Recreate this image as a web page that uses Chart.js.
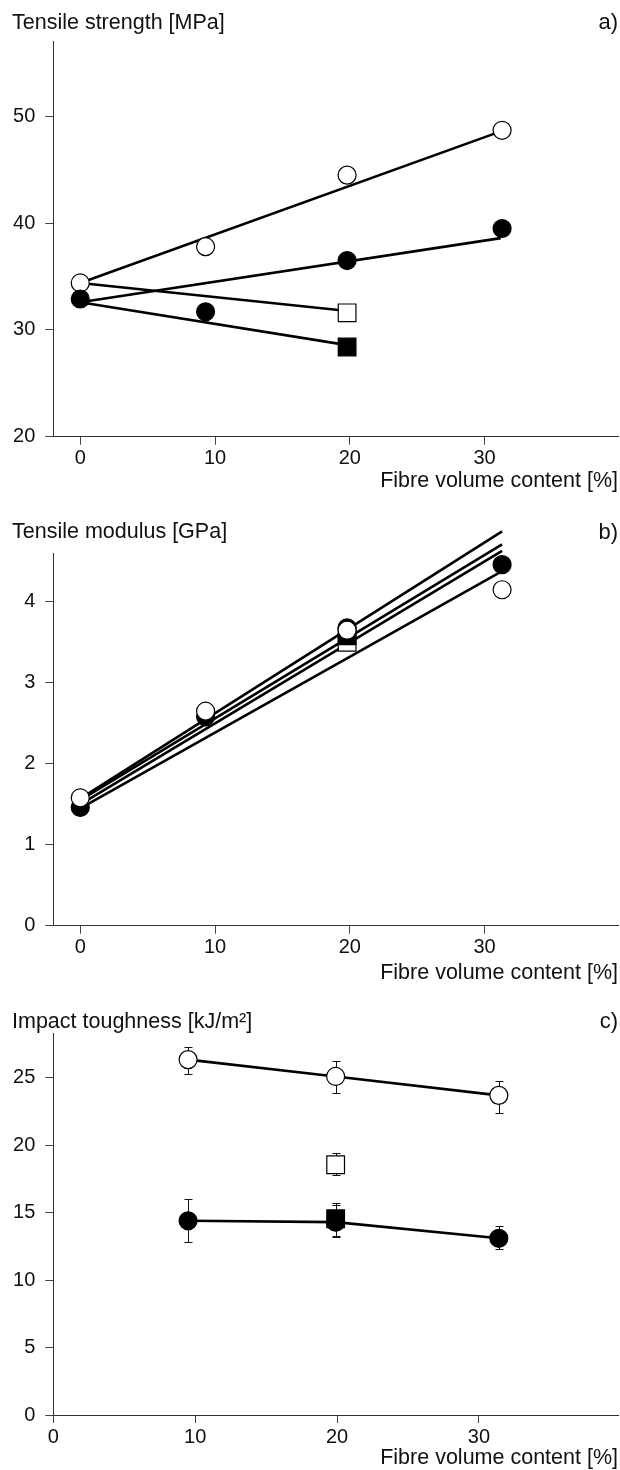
<!DOCTYPE html>
<html>
<head>
<meta charset="utf-8">
<script src="https://cdn.jsdelivr.net/npm/chart.js@4.4.1/dist/chart.umd.min.js"></script>
<style>
  body { margin: 0; background: #fff; }
  canvas { position: absolute; left: 0; }
</style>
</head>
<body>
<canvas id="chartA" width="620" height="495" style="top:0px"></canvas>
<canvas id="chartB" width="620" height="495" style="top:495px"></canvas>
<canvas id="chartC" width="620" height="480" style="top:990px"></canvas>
<script>
// a) tensile strength [MPa]
const strengthX = [0, 9.3, 19.8, 31.3];
const strengthOpenCircle = [34.4, 37.8, 44.5, 48.7];
const strengthFilledCircle = [32.9, 31.7, 36.5, 39.5];
const strengthSquareX = [19.8];
const strengthOpenSquare = [31.6];
const strengthFilledSquare = [28.4];
// fitted lines, start and end
const strengthFitOpenCircleX = [0, 31.2], strengthFitOpenCircle = [34.4, 48.6];
const strengthFitFilledCircleX = [0, 31.2], strengthFitFilledCircle = [32.6, 38.6];
const strengthFitOpenSquareX = [0, 19.7], strengthFitOpenSquare = [34.4, 31.8];
const strengthFitFilledSquareX = [0, 19.7], strengthFitFilledSquare = [32.6, 28.6];

// b) tensile modulus [GPa]
const modulusX = [0, 9.3, 19.8, 31.3];
const modulusOpenCircle = [1.58, 2.65, 3.65, 4.15];
const modulusFilledCircle = [1.46, 2.58, 3.68, 4.46];
const modulusSquareX = [19.8];
const modulusOpenSquare = [3.5];
const modulusFilledSquare = [3.58];
const modulusFitX = [0, 31.3];
const modulusFit1 = [1.57, 4.87];
const modulusFit2 = [1.55, 4.71];
const modulusFit3 = [1.50, 4.63];
const modulusFit4 = [1.45, 4.38];

// c) impact toughness [kJ/m²]
const impactX = [9.5, 19.9, 31.4];
const impactOpenCircle = [26.35, 25.1, 23.7];
const impactOpenCircleHi = [27.3, 26.25, 24.8];
const impactOpenCircleLo = [25.3, 23.9, 22.4];
const impactFilledCircle = [14.4, 14.3, 13.1];
const impactFilledCircleHi = [16.0, 15.6, 14.0];
const impactFilledCircleLo = [12.85, 13.2, 12.3];
const impactSquareX = [19.9];
const impactOpenSquare = [18.55];
const impactOpenSquareHi = [19.4];
const impactOpenSquareLo = [17.8];
const impactFilledSquare = [14.55];
const impactFilledSquareHi = [15.72];
const impactFilledSquareLo = [13.3];

const xLabel = 'Fibre volume content [%]';
const ink = '#111';
Chart.defaults.font.family = '"Liberation Sans", Arial, sans-serif';
Chart.defaults.color = ink;

function pts(xs, ys) {
    return xs.map((x, i) => ({ x: x, y: ys[i] }));
}

function marker(xs, ys, style, filled) {
    return {
        data: pts(xs, ys),
        showLine: false,
        pointStyle: style,
        pointRadius: style === 'rect' ? 12.5 : 9,
        pointBackgroundColor: filled ? '#000' : '#fff',
        pointBorderColor: '#000',
        pointBorderWidth: 1.2,
        clip: false,
        order: 1
    };
}

function fitLine(xs, ys) {
    return {
        data: pts(xs, ys),
        showLine: true,
        borderColor: '#000',
        borderWidth: 2.6,
        pointRadius: 0,
        clip: false,
        order: 2
    };
}

// y-axis caption (horizontal, top left) and panel letter (top right)
const panelText = {
    id: 'panelText',
    afterDraw(chart, args, opts) {
        const ctx = chart.ctx;
        ctx.save();
        ctx.fillStyle = ink;
        ctx.textBaseline = 'middle';
        ctx.font = '21.5px "Liberation Sans", Arial, sans-serif';
        ctx.textAlign = 'left';
        ctx.fillText(opts.title, 12, opts.y);
        ctx.font = '22px "Liberation Sans", Arial, sans-serif';
        ctx.textAlign = 'right';
        ctx.fillText(opts.letter, chart.width - 2, opts.y);
        ctx.restore();
    }
};

const errorBars = {
    id: 'errorBars',
    beforeDatasetsDraw(chart, args, opts) {
        if (!opts.sets) return;
        const ctx = chart.ctx;
        const x = chart.scales.x, y = chart.scales.y;
        ctx.save();
        ctx.strokeStyle = ink;
        ctx.lineWidth = 1;
        opts.sets.forEach(s => {
            s.x.forEach((xv, i) => {
                const px = Math.round(x.getPixelForValue(xv)) + 0.5;
                const top = Math.round(y.getPixelForValue(s.hi[i])) + 0.5;
                const bot = Math.round(y.getPixelForValue(s.lo[i])) + 0.5;
                ctx.beginPath();
                ctx.moveTo(px, top); ctx.lineTo(px, bot);
                ctx.moveTo(px - 4, top); ctx.lineTo(px + 4, top);
                ctx.moveTo(px - 4, bot); ctx.lineTo(px + 4, bot);
                ctx.stroke();
            });
        });
        ctx.restore();
    }
};

function makeChart(id, p) {
    return new Chart(document.getElementById(id), {
        type: 'scatter',
        data: { datasets: p.datasets },
        options: {
            responsive: false,
            animation: false,
            devicePixelRatio: 1,
            events: [],
            layout: { autoPadding: false, padding: { left: 0, right: 2, top: p.plotTop, bottom: 0 } },
            plugins: {
                legend: { display: false },
                tooltip: { enabled: false },
                title: { display: false },
                panelText: { title: p.title, letter: p.letter, y: p.textY },
                errorBars: { sets: p.errors }
            },
            scales: {
                x: {
                    min: p.xMin, max: p.xMax,
                    ticks: { stepSize: 10, includeBounds: false, padding: 2, font: { size: 20 }, color: ink },
                    grid: { drawOnChartArea: false, tickLength: 8, color: '#444' },
                    border: { color: '#333', width: 1 },
                    title: {
                        display: true, text: xLabel, align: 'end', color: ink,
                        font: { size: 21.5, lineHeight: 1 },
                        padding: { top: 0, bottom: p.xTitlePad }
                    },
                    afterFit(scale) {
                        scale.height = p.xHeight;
                        scale.paddingLeft = 0;
                        scale.paddingRight = 0;
                    }
                },
                y: {
                    min: p.yMin, max: p.yMax,
                    ticks: { stepSize: p.yStep, includeBounds: false, padding: 10, font: { size: 20 }, color: ink },
                    grid: { drawOnChartArea: false, tickLength: 8, color: '#444' },
                    border: { color: '#333', width: 1 },
                    afterFit(scale) {
                        scale.width = 53.3;
                        scale.paddingTop = 0;
                        scale.paddingBottom = 0;
                    }
                }
            }
        },
        plugins: [panelText, errorBars]
    });
}

makeChart('chartA', {
    title: 'Tensile strength [MPa]', letter: 'a)', textY: 23, plotTop: 41.7,
    xMin: -2, xMax: 39.9, yMin: 20, yMax: 57, yStep: 10,
    xHeight: 58.3, xTitlePad: 3.5,
    datasets: [
        marker(strengthX, strengthFilledCircle, 'circle', true),
        marker(strengthX, strengthOpenCircle, 'circle', false),
        marker(strengthSquareX, strengthFilledSquare, 'rect', true),
        marker(strengthSquareX, strengthOpenSquare, 'rect', false),
        fitLine(strengthFitOpenCircleX, strengthFitOpenCircle),
        fitLine(strengthFitFilledCircleX, strengthFitFilledCircle),
        fitLine(strengthFitOpenSquareX, strengthFitOpenSquare),
        fitLine(strengthFitFilledSquareX, strengthFitFilledSquare)
    ]
});

makeChart('chartB', {
    title: 'Tensile modulus [GPa]', letter: 'b)', textY: 37.5, plotTop: 58.3,
    xMin: -2, xMax: 39.9, yMin: 0, yMax: 4.6, yStep: 1,
    xHeight: 64.3, xTitlePad: 6.5,
    datasets: [
        marker(modulusX, modulusOpenCircle, 'circle', false),
        marker(modulusX, modulusFilledCircle, 'circle', true),
        marker(modulusSquareX, modulusFilledSquare, 'rect', true),
        marker(modulusSquareX, modulusOpenSquare, 'rect', false),
        fitLine(modulusFitX, modulusFit1),
        fitLine(modulusFitX, modulusFit2),
        fitLine(modulusFitX, modulusFit3),
        fitLine(modulusFitX, modulusFit4)
    ]
});

const impactFilled = marker(impactX, impactFilledCircle, 'circle', true);
impactFilled.showLine = true;
impactFilled.borderColor = '#000';
impactFilled.borderWidth = 2.6;
const impactOpen = marker(impactX, impactOpenCircle, 'circle', false);
impactOpen.showLine = true;
impactOpen.borderColor = '#000';
impactOpen.borderWidth = 2.6;

makeChart('chartC', {
    title: 'Impact toughness [kJ/m²]', letter: 'c)', textY: 32, plotTop: 43.3,
    xMin: 0, xMax: 39.8, yMin: 0, yMax: 28.3, yStep: 5,
    xHeight: 55, xTitlePad: 1.5,
    datasets: [
        impactFilled,
        marker(impactSquareX, impactFilledSquare, 'rect', true),
        impactOpen,
        marker(impactSquareX, impactOpenSquare, 'rect', false)
    ],
    errors: [
        { x: impactX, hi: impactOpenCircleHi, lo: impactOpenCircleLo },
        { x: impactX, hi: impactFilledCircleHi, lo: impactFilledCircleLo },
        { x: impactSquareX, hi: impactOpenSquareHi, lo: impactOpenSquareLo },
        { x: impactSquareX, hi: impactFilledSquareHi, lo: impactFilledSquareLo }
    ]
});
</script>
</body>
</html>
